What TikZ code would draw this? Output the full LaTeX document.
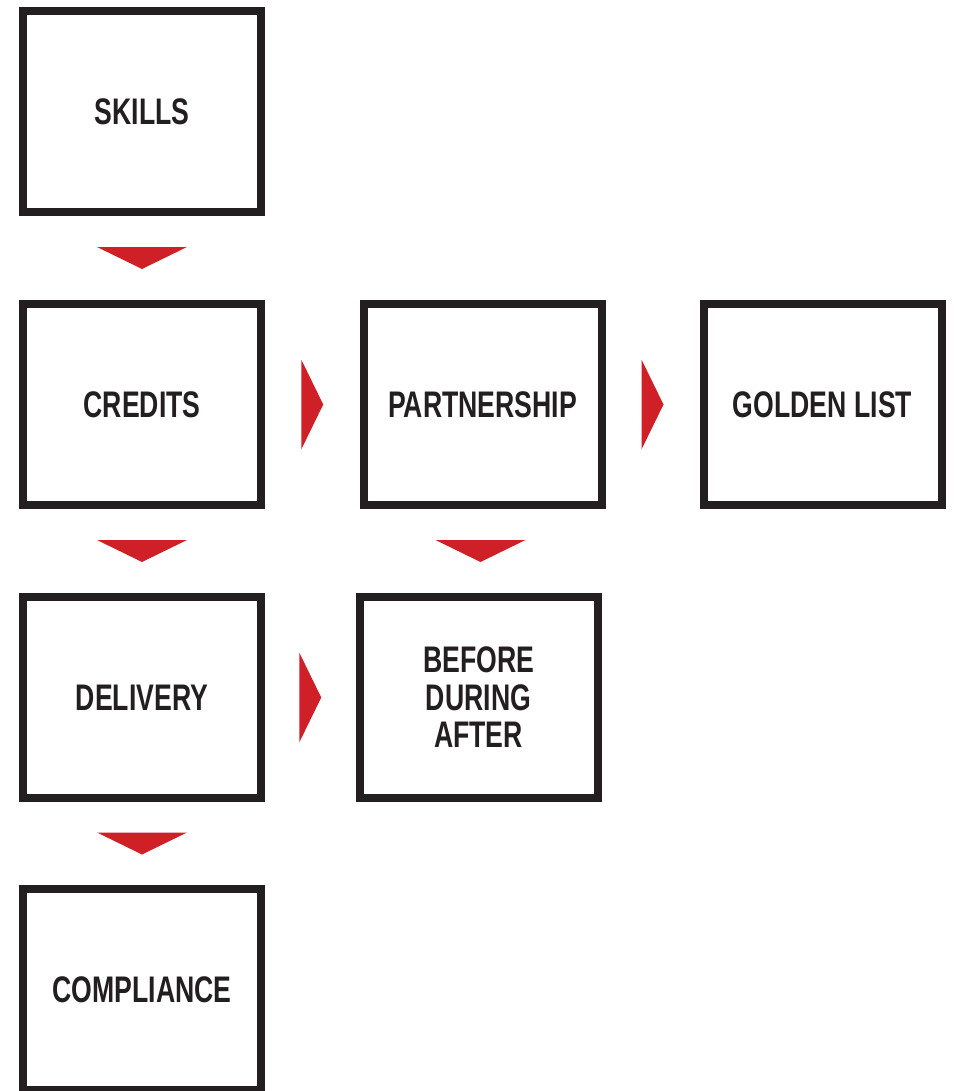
\documentclass[tikz,border=0pt]{standalone}
\usepackage{fontspec}
\newfontfamily\boxfont{Liberation Sans}[FakeStretch=0.72]
\usepackage{tikz}
\usetikzlibrary{calc}
\definecolor{boxblack}{HTML}{231F20}
\definecolor{arrowred}{HTML}{D02027}

\begin{document}
\begin{tikzpicture}[x=1pt,y=-1pt,
  box/.style={draw=boxblack,line width=8pt,minimum width=238pt,minimum height=201pt,
    text=boxblack,align=center,font=\boxfont\bfseries\fontsize{37}{37.5}\selectfont}]
\useasboundingbox (0,0) rectangle (953,1091);
\node [box] (skills) at (142,111.5) {SKILLS};
\node [box] (credits) at (142,404.5) {CREDITS};
\node [box] (partner) at (482.5,404.5) {PARTNERSHIP};
\node [box] (golden) at (822.5,404.5) {GOLDEN LIST};
\node [box] (delivery) at (142,697.5) {DELIVERY};
\node [box] (bda) at (478.5,697.5) {BEFORE\\DURING\\AFTER};
\node [box] (compliance) at (142,989.5) {COMPLIANCE};
% down markers
\fill [arrowred] ($(skills.south)!0.5!(credits.north)$) ++(-45,-11) -- ++(90,0) -- ++(-45,22) -- cycle;
\fill [arrowred] ($(credits.south)!0.5!(delivery.north)$) ++(-45,-11) -- ++(90,0) -- ++(-45,22) -- cycle;
\fill [arrowred] ($(delivery.south)!0.5!(compliance.north)$) ++(-45,-11) -- ++(90,0) -- ++(-45,22) -- cycle;
\fill [arrowred] ($(partner.south)!0.5!(bda.north)$) ++(-45,-11) -- ++(90,0) -- ++(-45,22) -- cycle;
% right markers
\fill [arrowred] ($(credits.east)!0.5!(partner.west)$) ++(-11,-45) -- ++(0,90) -- ++(22,-45) -- cycle;
\fill [arrowred] ($(partner.east)!0.5!(golden.west)$) ++(-11,-45) -- ++(0,90) -- ++(22,-45) -- cycle;
\fill [arrowred] ($(delivery.east)!0.5!(bda.west)$) ++(-11,-45) -- ++(0,90) -- ++(22,-45) -- cycle;
\end{tikzpicture}
\end{document}
